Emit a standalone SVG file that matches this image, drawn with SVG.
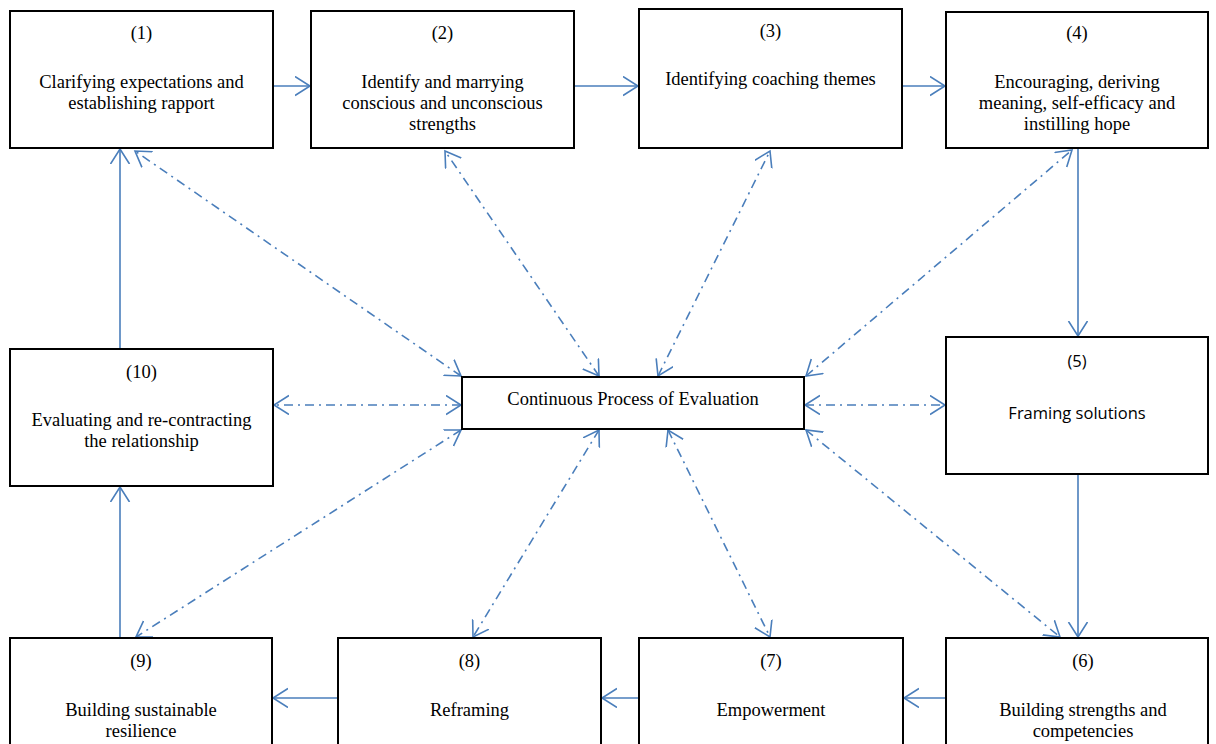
<svg xmlns="http://www.w3.org/2000/svg" width="1216" height="744" viewBox="0 0 1216 744">
<style>
.box{fill:#fff;stroke:#000;stroke-width:2}
.t{font-family:"Liberation Serif","Times New Roman",serif;font-size:18.5px;fill:#000;text-anchor:middle}
.s{font-family:"Open Sans","Noto Sans",sans-serif;font-size:16.5px;fill:#000;text-anchor:middle}
.c{fill:none;stroke:#4A7EBB;stroke-width:1.6}
.d{fill:none;stroke:#4A7EBB;stroke-width:1.6;stroke-dasharray:9 5 2 5}
</style>
<defs>
<marker id="ah" markerUnits="userSpaceOnUse" markerWidth="18" markerHeight="22" refX="15" refY="10" orient="auto-start-reverse" viewBox="0 0 18 22">
<path d="M0,0.5 L15,10 L0,19.5" fill="none" stroke="#4A7EBB" stroke-width="1.6"/>
</marker>
</defs>
<rect width="1216" height="744" fill="#fff"/>
<g id="connectors">
<line class="c" x1="273" y1="86" x2="310" y2="86" marker-end="url(#ah)"/>
<line class="c" x1="574" y1="86" x2="638" y2="86" marker-end="url(#ah)"/>
<line class="c" x1="902" y1="86" x2="945" y2="86" marker-end="url(#ah)"/>
<line class="c" x1="1078" y1="148" x2="1078" y2="336" marker-end="url(#ah)"/>
<line class="c" x1="1078" y1="474" x2="1078" y2="637" marker-end="url(#ah)"/>
<line class="c" x1="946" y1="698" x2="904" y2="698" marker-end="url(#ah)"/>
<line class="c" x1="639" y1="698" x2="602" y2="698" marker-end="url(#ah)"/>
<line class="c" x1="338" y1="698" x2="273" y2="698" marker-end="url(#ah)"/>
<line class="c" x1="120" y1="638" x2="120" y2="487" marker-end="url(#ah)"/>
<line class="c" x1="120" y1="349" x2="120" y2="149" marker-end="url(#ah)"/>
<line class="d" x1="461" y1="376" x2="135" y2="151" marker-start="url(#ah)" marker-end="url(#ah)"/>
<line class="d" x1="599" y1="376" x2="445" y2="151" marker-start="url(#ah)" marker-end="url(#ah)"/>
<line class="d" x1="658" y1="376" x2="770" y2="151" marker-start="url(#ah)" marker-end="url(#ah)"/>
<line class="d" x1="806" y1="376" x2="1072" y2="150" marker-start="url(#ah)" marker-end="url(#ah)"/>
<line class="d" x1="461" y1="405" x2="274" y2="405" marker-start="url(#ah)" marker-end="url(#ah)"/>
<line class="d" x1="805" y1="405" x2="945" y2="405" marker-start="url(#ah)" marker-end="url(#ah)"/>
<line class="d" x1="461" y1="430" x2="136" y2="637" marker-start="url(#ah)" marker-end="url(#ah)"/>
<line class="d" x1="599" y1="430" x2="473" y2="637" marker-start="url(#ah)" marker-end="url(#ah)"/>
<line class="d" x1="668" y1="430" x2="770" y2="637" marker-start="url(#ah)" marker-end="url(#ah)"/>
<line class="d" x1="806" y1="430" x2="1060" y2="637" marker-start="url(#ah)" marker-end="url(#ah)"/>
</g>
<g id="n1"><rect class="box" x="10" y="11" width="263" height="137"/>
<text class="t" x="141.5" y="39">(1)</text>
<text class="t" x="141.5" y="88">Clarifying expectations and</text>
<text class="t" x="141.5" y="109">establishing rapport</text></g>
<g id="n2"><rect class="box" x="311" y="11" width="263" height="137"/>
<text class="t" x="442.5" y="39">(2)</text>
<text class="t" x="442.5" y="88">Identify and marrying</text>
<text class="t" x="442.5" y="109">conscious and unconscious</text>
<text class="t" x="442.5" y="130">strengths</text></g>
<g id="n3"><rect class="box" x="639" y="9" width="263" height="139"/>
<text class="t" x="770.5" y="37">(3)</text>
<text class="t" x="770.5" y="85">Identifying coaching themes</text></g>
<g id="n4"><rect class="box" x="946" y="12" width="262" height="136"/>
<text class="t" x="1077" y="39">(4)</text>
<text class="t" x="1077" y="88">Encouraging, deriving</text>
<text class="t" x="1077" y="109">meaning, self-efficacy and</text>
<text class="t" x="1077" y="130">instilling hope</text></g>
<g id="n5"><rect class="box" x="946" y="337" width="262" height="137"/>
<text class="s" x="1077" y="367">(5)</text>
<text class="s" x="1077" y="419">Framing solutions</text></g>
<g id="n6"><rect class="box" x="946" y="638" width="262" height="120"/>
<text class="t" x="1083" y="667">(6)</text>
<text class="t" x="1083" y="716">Building strengths and</text>
<text class="t" x="1083" y="737">competencies</text></g>
<g id="n7"><rect class="box" x="639" y="638" width="264" height="120"/>
<text class="t" x="771" y="667">(7)</text>
<text class="t" x="771" y="716">Empowerment</text></g>
<g id="n8"><rect class="box" x="338" y="638" width="263" height="120"/>
<text class="t" x="469.5" y="667">(8)</text>
<text class="t" x="469.5" y="716">Reframing</text></g>
<g id="n9"><rect class="box" x="10" y="638" width="262" height="120"/>
<text class="t" x="141" y="667">(9)</text>
<text class="t" x="141" y="716">Building sustainable</text>
<text class="t" x="141" y="737">resilience</text></g>
<g id="n10"><rect class="box" x="10" y="349" width="263" height="137"/>
<text class="t" x="141.5" y="378">(10)</text>
<text class="t" x="141.5" y="426">Evaluating and re-contracting</text>
<text class="t" x="141.5" y="447">the relationship</text></g>
<g id="center"><rect class="box" x="462" y="377" width="342" height="52"/>
<text class="t" x="633" y="405">Continuous Process of Evaluation</text></g>
</svg>
